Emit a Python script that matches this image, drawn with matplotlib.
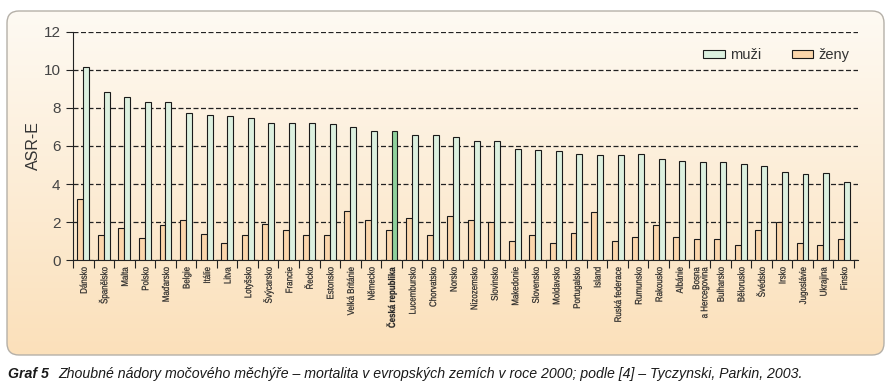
import numpy as np
import matplotlib
matplotlib.use("Agg")
import matplotlib.pyplot as plt
import matplotlib.transforms as mtransforms
from matplotlib import font_manager
from matplotlib.textpath import TextPath
from matplotlib.patches import FancyBboxPatch, Patch, PathPatch

plt.rcParams['font.family'] = ['Liberation Sans', 'DejaVu Sans']

# data (ASR-E, mortality, year 2000)
zeme = ['Dánsko', 'Španělsko', 'Malta', 'Polsko', 'Maďarsko', 'Belgie', 'Itálie',
        'Litva', 'Lotyšsko', 'Švýcarsko', 'Francie', 'Řecko', 'Estonsko',
        'Velká Británie', 'Německo', 'Česká republika', 'Lucembursko', 'Chorvatsko',
        'Norsko', 'Nizozemsko', 'Slovinsko', 'Makedonie', 'Slovensko', 'Moldavsko',
        'Portugalsko', 'Island', 'Ruská federace', 'Rumunsko', 'Rakousko', 'Albánie',
        'Bosna\na Hercegovina', 'Bulharsko', 'Bělorusko', 'Švédsko', 'Irsko',
        'Jugoslávie', 'Ukrajina', 'Finsko']
muzi = [10.15, 8.85, 8.55, 8.3, 8.3, 7.75, 7.65, 7.55, 7.45, 7.22, 7.22, 7.22, 7.18,
        7.02, 6.77, 6.77, 6.56, 6.56, 6.46, 6.25, 6.25, 5.82, 5.77, 5.72, 5.56, 5.51,
        5.51, 5.56, 5.3, 5.2, 5.14, 5.14, 5.04, 4.93, 4.62, 4.51, 4.57, 4.1]
zeny = [3.2, 1.31, 1.68, 1.15, 1.84, 2.1, 1.36, 0.89, 1.31, 1.89, 1.57, 1.31, 1.31,
        2.57, 2.1, 1.57, 2.2, 1.31, 2.31, 2.1, 2.0, 1.0, 1.31, 0.89, 1.42, 2.52,
        1.0, 1.21, 1.84, 1.21, 1.1, 1.1, 0.79, 1.57, 2.0, 0.89, 0.79, 1.1]
zvyraznit = 'Česká republika'

W, H = 889, 389
fig = plt.figure(figsize=(W / 100, H / 100), dpi=100)

# background panel with gradient and rounded corners
bg = fig.add_axes([0, 0, 1, 1])
bg.set_xlim(0, W)
bg.set_ylim(H, 0)
bg.axis('off')
box = FancyBboxPatch((7, 11), 877, 344, boxstyle="round,pad=0,rounding_size=12",
                     facecolor='none', edgecolor='#b5b0a8', lw=1.0)
bg.add_patch(box)
c_top = np.array([254, 250, 243]) / 255
c_bot = np.array([251, 224, 186]) / 255
t = np.linspace(0, 1, 256)[:, None]
grad = (c_top[None, :] * (1 - t) + c_bot[None, :] * t)[:, None, :]
im = bg.imshow(grad, extent=(7, 884, 355, 11), aspect='auto', zorder=0)
im.set_clip_path(box)

ax = fig.add_axes([73 / W, 1 - 260.3 / H, (858 - 73) / W, (260.3 - 31.7) / H])
ax.patch.set_alpha(0)

x = np.arange(len(zeme))
bw = 0.29
green = '#dcf0df'
peach = '#fbd6ab'
mcol = [('#8fd09c' if z == zvyraznit else green) for z in zeme]
ax.bar(x - bw / 2, zeny, bw, color=peach, edgecolor='#1a1a1a', lw=0.8, zorder=3)
ax.bar(x + bw / 2, muzi, bw, color=mcol, edgecolor='#1a1a1a', lw=0.8, zorder=3)

ax.set_ylim(0, 12)
ax.set_xlim(-0.5, 37.7)
ax.set_yticks(range(0, 13, 2))
ax.yaxis.grid(True, linestyle=(0, (4, 2)), color='#222222', lw=0.9)
ax.set_axisbelow(True)
for s in ['top', 'right']:
    ax.spines[s].set_visible(False)
ax.spines['left'].set_color('#222222')
ax.spines['bottom'].set_color('#222222')
ax.tick_params(axis='y', length=5, color='#222222', labelsize=11, labelcolor='#444444', pad=4)
ax.set_ylabel('ASR-E', fontsize=11.5, color='#333333', labelpad=2)

# ticks between categories
ax.set_xticks(np.arange(-0.5, len(zeme), 1.0))
ax.set_xticklabels([])
ax.tick_params(axis='x', length=6, color='#222222', direction='out')

# country names: condensed, rotated text drawn as paths (no narrow font installed)
lab_px = 9.6
fp_n = font_manager.FontProperties(family=['Liberation Sans', 'DejaVu Sans'])
fp_b = font_manager.FontProperties(family=['Liberation Sans', 'DejaVu Sans'], weight='bold')
ref_w = TextPath((0, 0), 'Velká Británie', size=lab_px, prop=fp_n).get_extents().width
squeeze = 48.0 / ref_w
fig.canvas.draw()
for i, z in enumerate(zeme):
    lines = z.split('\n')
    fp = fp_b if z == zvyraznit else fp_n
    anchor = ax.transData.transform((i, 0))
    for k, line in enumerate(lines):
        tp = TextPath((0, 0), line, size=lab_px, prop=fp)
        w = tp.get_extents().x1
        dx = (k - (len(lines) - 1) / 2) * lab_px * 0.85
        tr = (mtransforms.Affine2D()
              .translate(-w, -0.36 * lab_px)
              .scale(squeeze, 1)
              .rotate_deg(90)
              .translate(anchor[0] + dx, anchor[1] - 7))
        ax.add_artist(PathPatch(tp, transform=tr, facecolor='#262626', edgecolor='#262626',
                                lw=0.15, clip_on=False))

handles = [Patch(facecolor=green, edgecolor='#1a1a1a', lw=0.8, label='muži'),
           Patch(facecolor=peach, edgecolor='#1a1a1a', lw=0.8, label='ženy')]
ax.legend(handles=handles, ncol=2, loc='upper right', bbox_to_anchor=(1.006, 0.985),
          frameon=False, fontsize=10.5, handlelength=1.5, handleheight=0.55,
          columnspacing=2.1, handletextpad=0.35, labelcolor='#333333')

fig.text(8 / W, 1 - 374 / H, 'Graf 5', fontsize=10.2, fontweight='bold', style='italic',
         va='center', ha='left', color='#1a1a1a')
fig.text(58 / W, 1 - 374 / H,
         'Zhoubné nádory močového měchýře – mortalita v evropských zemích v roce 2000; '
         'podle [4] – Tyczynski, Parkin, 2003.',
         fontsize=10.2, style='italic', va='center', ha='left', color='#1a1a1a')

fig.savefig('out.png', dpi=100)
